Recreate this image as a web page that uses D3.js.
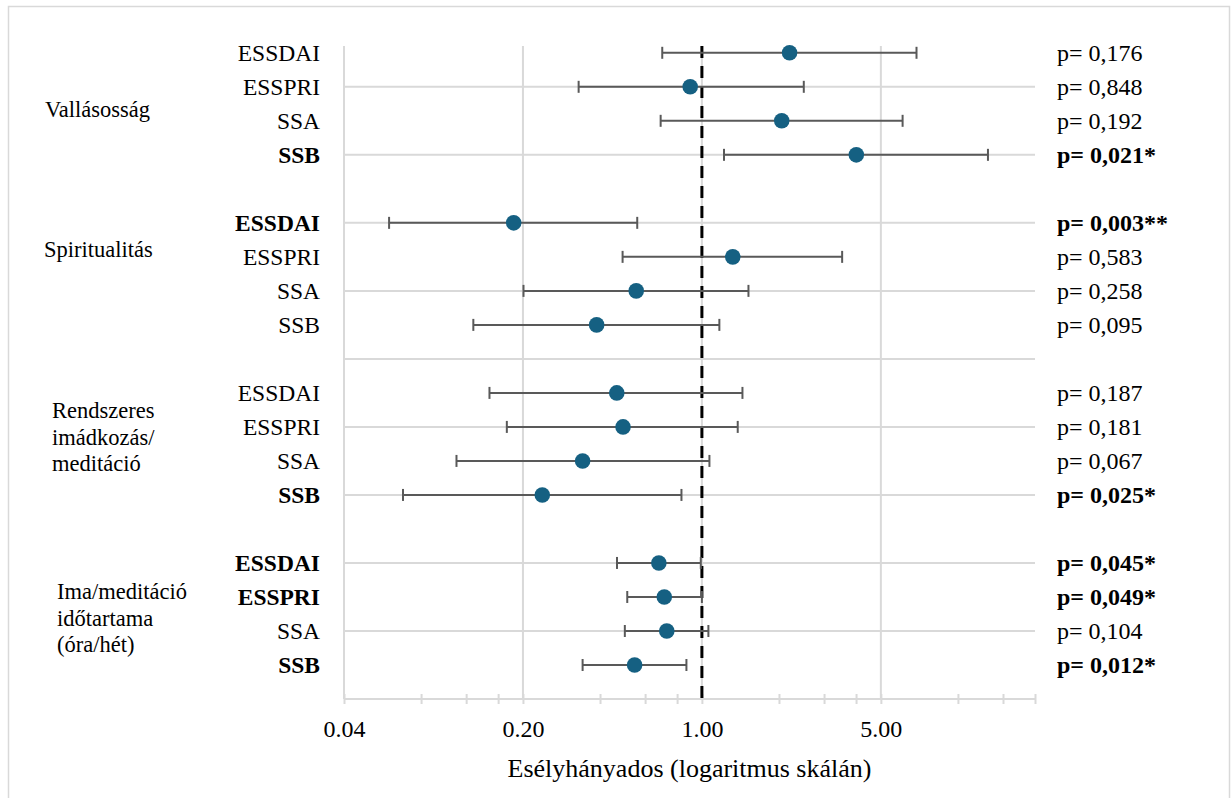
<!DOCTYPE html>
<html>
<head>
<meta charset="utf-8">
<script src="https://cdn.jsdelivr.net/npm/d3@7"></script>
<style>
  body { margin: 0; background: #fff; }
  svg text { font-family: "Liberation Serif", "Tinos", "Times New Roman", "Nimbus Roman", "DejaVu Serif", serif; fill: #000; }
</style>
</head>
<body>
<div id="chart"></div>
<script>
// ******** DATA ********
var groupLabels = [
  ["Vallásosság"],
  ["Spiritualitás"],
  ["Rendszeres", "imádkozás/", "meditáció"],
  ["Ima/meditáció", "időtartama", "(óra/hét)"]
];
var subscales = ["ESSDAI", "ESSPRI", "SSA", "SSB"];
var oddsRatio = [2.20, 0.90, 2.05, 4.01,  0.184, 1.32, 0.554, 0.388,  0.465, 0.492, 0.342, 0.238,  0.679, 0.713, 0.729, 0.546];
var ciLower   = [0.70, 0.33, 0.69, 1.22,  0.060, 0.49, 0.201, 0.128,  0.148, 0.173, 0.110, 0.068,  0.466, 0.511, 0.500, 0.342];
var ciUpper   = [6.89, 2.50, 6.08, 13.1,  0.559, 3.53, 1.52, 1.17,    1.44, 1.38, 1.07, 0.832,    0.99, 1.00, 1.06, 0.870];
var pLabels = ["p= 0,176", "p= 0,848", "p= 0,192", "p= 0,021*",
               "p= 0,003**", "p= 0,583", "p= 0,258", "p= 0,095",
               "p= 0,187", "p= 0,181", "p= 0,067", "p= 0,025*",
               "p= 0,045*", "p= 0,049*", "p= 0,104", "p= 0,012*"];
var majorTicks = [0.04, 0.2, 1, 5];
var minorTicks = [0.08, 0.12, 0.16, 0.4, 0.6, 0.8, 2, 3, 4, 10, 15, 20];
var xTitle = "Esélyhányados (logaritmus skálán)";

// ******** LAYOUT ********
const width = 1231;
const height = 798;
var plot = {left: 344, right: 1035, top: 46, bottom: 699};
var groupPos = [{x: 45, y: 110}, {x: 44, y: 250}, {x: 52, y: 411}, {x: 57, y: 592}];
var blue = "#156082", grey = "#d9d9d9", barGrey = "#595959";
var serif = '"Liberation Serif", "Tinos", "Times New Roman", "Nimbus Roman", "DejaVu Serif", serif';

var rows = oddsRatio.map(function(d, i){
  var g = Math.floor(i / 4);
  return {
    group: g,
    label: subscales[i % 4],
    or: d, lo: ciLower[i], hi: ciUpper[i],
    p: pLabels[i],
    sig: pLabels[i].indexOf("*") >= 0,
    slot: 19 - (g * 5 + i % 4)
  };
});

var svg = d3.select("#chart").append("svg")
  .attr("width", width)
  .attr("height", height);

svg.append("rect")
  .attr("width", width).attr("height", height)
  .attr("fill", "#fff");
svg.append("rect")
  .attr("x", 8.5).attr("y", 6.5)
  .attr("width", 1221).attr("height", 820)
  .attr("fill", "none")
  .attr("stroke", grey)
  .attr("stroke-width", 1.5);

// ******** SCALES ********
var x = d3.scaleLog().base(5)
  .domain([0.04, 20])
  .range([plot.left, plot.right]);
var y = d3.scaleLinear()
  .domain([0, 19.2])
  .range([plot.bottom, plot.top]);

// ******** GRID ********
var grid = svg.append("g").attr("class", "grid");
grid.selectAll(".hgrid")
  .data(d3.range(2, 19, 2))
  .enter().append("line")
  .attr("x1", plot.left).attr("x2", plot.right)
  .attr("y1", function(d){ return y(d); })
  .attr("y2", function(d){ return y(d); })
  .attr("stroke", grey)
  .attr("stroke-width", 2);
grid.selectAll(".vgrid")
  .data(majorTicks)
  .enter().append("line")
  .attr("x1", function(d){ return x(d); })
  .attr("x2", function(d){ return x(d); })
  .attr("y1", plot.top).attr("y2", plot.bottom)
  .attr("stroke", grey)
  .attr("stroke-width", 2);

// ******** X AXIS ********
var xAxis = d3.axisBottom(x)
  .tickValues(majorTicks.concat(minorTicks))
  .tickSize(5)
  .tickPadding(0)
  .tickFormat(function(d){
    return majorTicks.indexOf(d) >= 0 ? d3.format(".2f")(d) : "";
  });
var ax = svg.append("g")
  .attr("transform", `translate(0, ${plot.bottom})`)
  .call(xAxis)
  .attr("font-family", serif);
ax.select(".domain")
  .attr("stroke", grey)
  .attr("stroke-width", 2)
  .attr("d", `M${plot.left},0H${plot.right}`);
ax.selectAll(".tick line")
  .attr("stroke", grey)
  .attr("stroke-width", 2)
  .attr("y1", -5).attr("y2", 5);
ax.selectAll(".tick text")
  .attr("y", 38).attr("dy", 0)
  .style("font-size", "24px")
  .attr("fill", "#000");

svg.append("text")
  .attr("x", (plot.left + plot.right) / 2)
  .attr("y", 777)
  .attr("text-anchor", "middle")
  .style("font-size", "26px")
  .text(xTitle);

// ******** REFERENCE LINE (OR = 1) ********
svg.append("line")
  .attr("x1", x(1)).attr("x2", x(1))
  .attr("y1", plot.top).attr("y2", plot.bottom)
  .attr("stroke", "#000")
  .attr("stroke-width", 3)
  .attr("stroke-dasharray", "12,8");

// ******** ERROR BARS ********
var bars = svg.append("g").selectAll("g")
  .data(rows)
  .enter().append("g")
  .attr("transform", function(d){ return `translate(0, ${y(d.slot)})`; });
bars.append("line")
  .attr("x1", function(d){ return x(d.lo); })
  .attr("x2", function(d){ return x(d.hi); })
  .attr("stroke", barGrey).attr("stroke-width", 2);
bars.append("line")
  .attr("x1", function(d){ return x(d.lo); })
  .attr("x2", function(d){ return x(d.lo); })
  .attr("y1", -6).attr("y2", 6)
  .attr("stroke", barGrey).attr("stroke-width", 2);
bars.append("line")
  .attr("x1", function(d){ return x(d.hi); })
  .attr("x2", function(d){ return x(d.hi); })
  .attr("y1", -6).attr("y2", 6)
  .attr("stroke", barGrey).attr("stroke-width", 2);
bars.append("circle")
  .attr("cx", function(d){ return x(d.or); })
  .attr("r", 7.8)
  .attr("fill", blue);

// ******** ROW LABELS ********
bars.append("text")
  .attr("x", 320)
  .attr("dy", "0.33em")
  .attr("text-anchor", "end")
  .style("font-size", "23.5px")
  .style("font-weight", function(d){ return d.sig ? "bold" : "normal"; })
  .text(function(d){ return d.label; });

bars.append("text")
  .attr("x", 1057)
  .attr("dy", "0.33em")
  .style("font-size", "24px")
  .style("font-weight", function(d){ return d.sig ? "bold" : "normal"; })
  .text(function(d){ return d.p; });

// ******** GROUP LABELS ********
groupLabels.forEach(function(lines, g){
  svg.append("g").selectAll("text")
    .data(lines)
    .enter().append("text")
    .attr("x", groupPos[g].x)
    .attr("y", function(d, i){ return groupPos[g].y + i * 26.5; })
    .attr("dy", "0.33em")
    .style("font-size", "22.5px")
    .text(function(d){ return d; });
});
</script>
</body>
</html>
